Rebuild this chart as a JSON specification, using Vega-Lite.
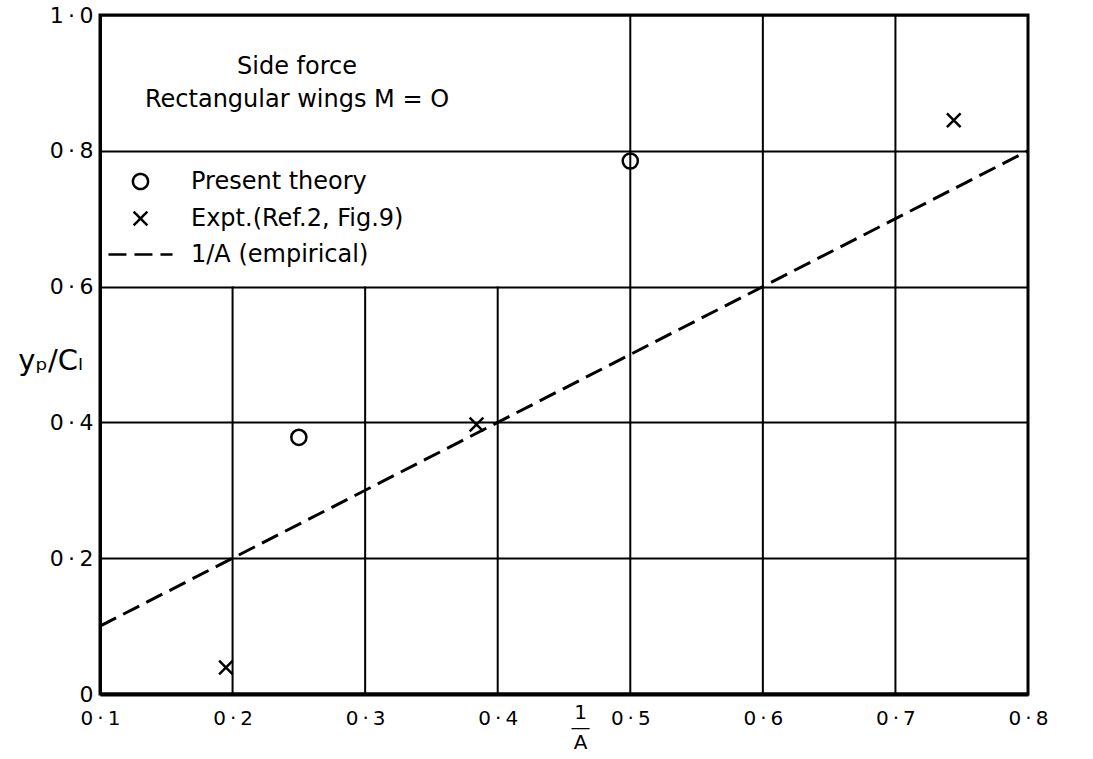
{
  "$schema": "https://vega.github.io/schema/vega-lite/v6.json",
  "width": 928,
  "height": 679,
  "autosize": {"type": "none"},
  "padding": {"left": 100, "top": 15, "right": 65, "bottom": 65},
  "background": "white",
  "title": {
    "text": ["Side force", "Rectangular wings  M = O"],
    "anchor": "start",
    "align": "center",
    "frame": "group",
    "orient": "top",
    "offset": -108,
    "dx": 197,
    "font": "DejaVu Sans",
    "fontSize": 24,
    "fontWeight": "normal",
    "color": "black",
    "lineHeight": 33
  },
  "config": {
    "view": {"stroke": "black", "strokeWidth": 3},
    "font": "DejaVu Sans",
    "axis": {
      "labelFont": "DejaVu Sans",
      "labelColor": "black",
      "labelFontSize": 21,
      "ticks": false,
      "domainColor": "black",
      "gridColor": "black",
      "gridWidth": 2,
      "gridOpacity": 1,
      "titleColor": "black",
      "titleFontWeight": "normal",
      "titleFont": "DejaVu Sans"
    },
    "legend": {
      "orient": "none",
      "legendX": 21,
      "legendY": 147,
      "padding": 0,
      "labelFont": "DejaVu Sans",
      "labelFontSize": 24,
      "labelColor": "black",
      "labelOffset": 31,
      "labelLimit": 500,
      "rowPadding": 4,
      "symbolSize": 1296,
      "symbolStrokeWidth": 2.5,
      "symbolStrokeColor": "black",
      "symbolFillColor": "transparent"
    }
  },
  "layer": [
    {
      "data": {"values": [
        {"x": 0.2, "y": 0, "y2": 0.6},
        {"x": 0.3, "y": 0, "y2": 0.6},
        {"x": 0.4, "y": 0, "y2": 0.6},
        {"x": 0.5, "y": 0, "y2": 1.0},
        {"x": 0.6, "y": 0, "y2": 1.0},
        {"x": 0.7, "y": 0, "y2": 1.0}
      ]},
      "mark": {"type": "rule", "color": "black", "strokeWidth": 2},
      "encoding": {
        "x": {
          "field": "x", "type": "quantitative",
          "scale": {"domain": [0.1, 0.8], "nice": false, "zero": false},
          "axis": {
            "values": [0.1, 0.2, 0.3, 0.4, 0.5, 0.6, 0.7, 0.8],
            "grid": false,
            "labelFlush": false,
            "labelPadding": 14,
            "labelFontSize": 20,
            "labelExpr": "replace(format(datum.value, '.1f'), '.', '\u2009·\u2009')",
            "domainWidth": 4,
            "title": ["1", "—", "A"],
            "titleX": 480,
            "titleY": 8,
            "titleAlign": "center",
            "titleBaseline": "top",
            "titleLineHeight": 15,
            "titleFontSize": 20
          }
        },
        "y": {
          "field": "y", "type": "quantitative",
          "scale": {"domain": [0, 1], "nice": false, "zero": false},
          "axis": {
            "values": [0, 0.2, 0.4, 0.6, 0.8, 1.0],
            "grid": true,
            "labelPadding": 7,
            "labelFontSize": 22,
            "labelExpr": "datum.value == 0 ? '0' : replace(format(datum.value, '.1f'), '.', '\u2009·\u2009')",
            "domainWidth": 3,
            "title": "yₚ/Cₗ",
            "titleAngle": 0,
            "titleX": -50,
            "titleY": 345,
            "titleAlign": "center",
            "titleBaseline": "middle",
            "titleFontSize": 29
          }
        },
        "y2": {"field": "y2"}
      }
    },
    {
      "data": {"values": [
        {"x": 0.1, "y": 0.1, "series": "1/A (empirical)"},
        {"x": 0.8, "y": 0.8, "series": "1/A (empirical)"}
      ]},
      "mark": {"type": "line", "color": "black", "strokeWidth": 3},
      "encoding": {
        "x": {"field": "x", "type": "quantitative"},
        "y": {"field": "y", "type": "quantitative"},
        "strokeDash": {
          "field": "series", "type": "nominal",
          "scale": {
            "domain": ["Present theory", "Expt.(Ref.2, Fig.9)", "1/A (empirical)"],
            "range": [[1, 0], [1, 0], [18, 8]]
          },
          "legend": {"title": null}
        }
      }
    },
    {
      "data": {"values": [
        {"x": 0.25, "y": 0.378, "series": "Present theory"},
        {"x": 0.5, "y": 0.785, "series": "Present theory"},
        {"x": 0.195, "y": 0.039, "series": "Expt.(Ref.2, Fig.9)"},
        {"x": 0.384, "y": 0.397, "series": "Expt.(Ref.2, Fig.9)"},
        {"x": 0.744, "y": 0.845, "series": "Expt.(Ref.2, Fig.9)"}
      ]},
      "mark": {"type": "point", "filled": false, "color": "black", "strokeWidth": 2.5, "size": 1296, "opacity": 1},
      "encoding": {
        "x": {"field": "x", "type": "quantitative"},
        "y": {"field": "y", "type": "quantitative"},
        "shape": {
          "field": "series", "type": "nominal",
          "scale": {
            "domain": ["Present theory", "Expt.(Ref.2, Fig.9)", "1/A (empirical)"],
            "range": [
              "M0.42,0A0.42,0.42,0,1,1,-0.42,0A0.42,0.42,0,1,1,0.42,0Z",
              "M-0.38,-0.38L0.38,0.38M-0.38,0.38L0.38,-0.38",
              "M-1.78,0L1.78,0"
            ]
          },
          "legend": {"title": null}
        }
      }
    }
  ]
}
